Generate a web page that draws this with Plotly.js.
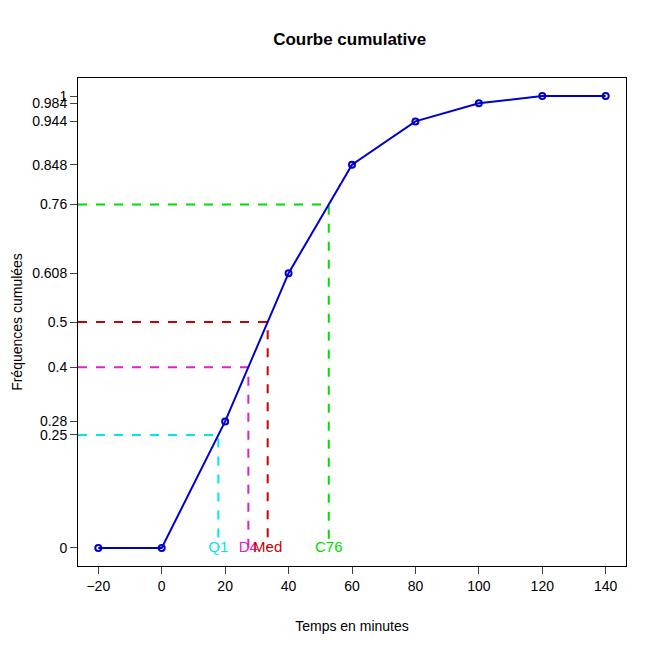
<!DOCTYPE html>
<html>
<head>
<meta charset="utf-8">
<script src="https://cdn.plot.ly/plotly-3.0.1.min.js"></script>
<style>body{margin:0;background:#fff}</style>
</head>
<body>
<div id="chart" style="width:666px;height:665px"></div>
<script>
//cumulative curve data
var temps = [-20, 0, 20, 40, 60, 80, 100, 120, 140];
var freqCum = [0, 0, 0.28, 0.608, 0.848, 0.944, 0.984, 1, 1];

//quantiles
var qNames = ["Q1", "D4", "Med", "C76"];
var qLevels = [0.25, 0.4, 0.5, 0.76];
var qTimes = [17.86, 27.32, 33.41, 52.67];
var qColors = ["#00e5ee", "#dd22cc", "#cc0000", "#00dd00"];

var yTicks = [0, 0.25, 0.28, 0.4, 0.5, 0.608, 0.76, 0.848, 0.944, 0.984, 1];
var xMin = -26.4;

var traces = [];
for (var i = 0; i < qNames.length; i++) {
  //horizontal + vertical dashed guide
  traces.push({
    x: [xMin, qTimes[i], qTimes[i]],
    y: [qLevels[i], qLevels[i], 0],
    mode: "lines",
    line: {color: qColors[i], width: 2, dash: "dash"},
    hoverinfo: "skip"
  });
  traces.push({
    x: [qTimes[i]],
    y: [0],
    mode: "text",
    text: [qNames[i]],
    textposition: "middle center",
    textfont: {color: qColors[i], size: 15, family: "Liberation Sans, Arial"}
  });
}
traces.push({
  x: temps,
  y: freqCum,
  mode: "lines+markers",
  line: {color: "#0000cc", width: 2},
  marker: {symbol: "circle-open", size: 6, color: "#0000cc", line: {width: 2}}
});

var layout = {
  width: 666,
  height: 665,
  showlegend: false,
  paper_bgcolor: "#fff",
  plot_bgcolor: "#fff",
  margin: {l: 78, r: 40, t: 78, b: 99},
  font: {family: "Liberation Sans, Arial", size: 14, color: "#000"},
  title: {text: "<b>Courbe cumulative</b>", x: 0.525, y: 0.95, font: {size: 17}},
  xaxis: {
    range: [xMin, 146.4],
    tickvals: [-20, 0, 20, 40, 60, 80, 100, 120, 140],
    ticks: "outside", ticklen: 7,
    showgrid: false, zeroline: false,
    showline: true, mirror: true, linecolor: "#000",
    title: {text: "Temps en minutes", standoff: 28, font: {size: 14}}
  },
  yaxis: {
    range: [-0.04, 1.04],
    tickvals: yTicks,
    ticktext: yTicks.map(String),
    ticks: "outside", ticklen: 7,
    showgrid: false, zeroline: false,
    showline: true, mirror: true, linecolor: "#000",
    title: {text: "Fréquences cumulées", standoff: 6, font: {size: 14}}
  }
};

Plotly.newPlot("chart", traces, layout, {displayModeBar: false});
</script>
</body>
</html>
